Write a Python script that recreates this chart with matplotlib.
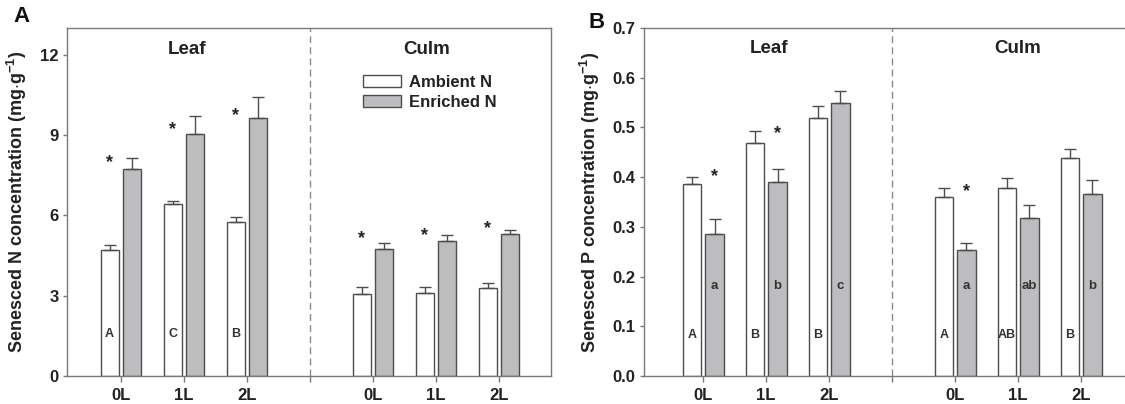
import matplotlib
matplotlib.use("Agg")
import matplotlib.pyplot as plt
import numpy as np

plt.rcParams['font.family'] = ['Liberation Sans', 'DejaVu Sans']
plt.rcParams['font.weight'] = 'bold'
plt.rcParams['mathtext.fontset'] = 'custom'
plt.rcParams['mathtext.rm'] = 'Liberation Sans:bold'
plt.rcParams['mathtext.it'] = 'Liberation Sans:bold'
plt.rcParams['mathtext.bf'] = 'Liberation Sans:bold'

# ---------------- data ----------------
levels = ['0L', '1L', '2L']
organs = ['Leaf', 'Culm']

# Panel A: senesced N (mg/g) -- order: Leaf 0L,1L,2L, Culm 0L,1L,2L
n_ambient = [4.72, 6.43, 5.75, 3.06, 3.11, 3.30]
n_ambient_se = [0.18, 0.12, 0.20, 0.28, 0.23, 0.17]
n_enriched = [7.75, 9.03, 9.64, 4.73, 5.03, 5.29]
n_enriched_se = [0.40, 0.68, 0.78, 0.25, 0.24, 0.15]
n_letters_amb = ['A', 'C', 'B', '', '', '']
n_letters_enr = ['', '', '', '', '', '']
n_star = [True, True, True, True, True, True]
n_star_y = [7.96, 9.19, 9.72, 5.13, 5.26, 5.50]

# Panel B: senesced P (mg/g)
p_ambient = [0.387, 0.468, 0.519, 0.361, 0.379, 0.439]
p_ambient_se = [0.013, 0.024, 0.025, 0.017, 0.019, 0.017]
p_enriched = [0.286, 0.390, 0.549, 0.253, 0.317, 0.366]
p_enriched_se = [0.029, 0.026, 0.024, 0.014, 0.026, 0.028]
p_letters_amb = ['A', 'B', 'B', 'A', 'AB', 'B']
p_letters_enr = ['a', 'b', 'c', 'a', 'ab', 'b']
p_star = [True, True, False, True, False, False]
p_star_y = [0.402, 0.487, None, 0.370, None, None]

series_labels = ['Ambient N', 'Enriched N']

# ---------------- style ----------------
W, H = 1125, 404
fig = plt.figure(figsize=(W / 100, H / 100), dpi=100)
fig.patch.set_facecolor('white')

grey_fill = '#bdbdc0'
edge = '#4d4d4d'
spine_col = '#7a7a7a'
bw = 0.29
off = 0.18
xpos = np.array([0, 1, 2, 4, 5, 6], dtype=float)


def panel(ax, amb, amb_se, enr, enr_se, let_amb, let_enr, star, star_y, star_side,
          ylim, yticks, yticklabels, ylabel, let_y_amb, let_y_enr, title_x, title_y, xlim):
    ax.bar(xpos - off, amb, width=bw, color='white', edgecolor=edge, linewidth=1.0,
           zorder=2, label=series_labels[0])
    ax.bar(xpos + off, enr, width=bw, color=grey_fill, edgecolor=edge, linewidth=1.0,
           zorder=2, label=series_labels[1])
    ax.errorbar(xpos - off, amb, yerr=[np.zeros(len(amb)), amb_se], fmt='none',
                ecolor=edge, elinewidth=1.0, capsize=4, capthick=1.0, zorder=3)
    ax.errorbar(xpos + off, enr, yerr=[np.zeros(len(enr)), enr_se], fmt='none',
                ecolor=edge, elinewidth=1.0, capsize=4, capthick=1.0, zorder=3)
    for i, x in enumerate(xpos):
        if let_amb[i]:
            ax.text(x - off, let_y_amb, let_amb[i], ha='center', va='center',
                    fontsize=9, fontweight='bold', color='#333333', zorder=4)
        if let_enr[i]:
            ax.text(x + off, let_y_enr, let_enr[i], ha='center', va='center',
                    fontsize=9.5, fontweight='bold', color='#333333', zorder=4)
        if star[i]:
            sx = x + star_side * off
            ax.text(sx, star_y[i], '*', ha='center', va='center', fontsize=13,
                    fontweight='bold', color='#222222', zorder=4)
    ax.axvline(3, color='#8a8a8a', linestyle=(0, (5, 3)), linewidth=1.0, zorder=1)
    ax.set_xlim(*xlim)
    ax.set_ylim(*ylim)
    ax.set_yticks(yticks)
    ax.set_yticklabels(yticklabels)
    ax.set_xticks([0, 1, 2, 3, 4, 5, 6])
    ax.set_xticklabels(['0L', '1L', '2L', '', '0L', '1L', '2L'])
    ax.tick_params(axis='x', direction='out', length=4, width=1.0, color=spine_col,
                   labelsize=12, pad=5)
    ax.tick_params(axis='y', direction='out', length=3, width=1.0, color=spine_col,
                   labelsize=12, pad=3)
    for lab in ax.get_xticklabels() + ax.get_yticklabels():
        lab.set_fontweight('bold')
        lab.set_color('#222222')
    for s in ax.spines.values():
        s.set_color(spine_col)
        s.set_linewidth(1.0)
    ax.set_ylabel(ylabel, fontsize=13, fontweight='bold', color='#222222')
    ax.text(title_x[0], title_y, organs[0], ha='center', va='center', fontsize=13.5,
            fontweight='bold', color='#222222')
    ax.text(title_x[1], title_y, organs[1], ha='center', va='center', fontsize=13.5,
            fontweight='bold', color='#222222')


axA = fig.add_axes([67 / W, 28 / H, 484 / W, 348 / H])
panel(axA, n_ambient, n_ambient_se, n_enriched, n_enriched_se,
      n_letters_amb, n_letters_enr, n_star, n_star_y, -1,
      (0, 13), [0, 3, 6, 9, 12], ['0', '3', '6', '9', '12'],
      'Senesced N concentration (mg$\\cdot$g$^{-1}$)', 1.58, 1.58,
      (1.05, 4.85), 12.2, (-0.857, 6.825))
axA.yaxis.set_label_coords(-0.078, 0.5)
leg = axA.legend(loc='upper left', bbox_to_anchor=(0.597, 0.885), frameon=False,
                 fontsize=12, handlelength=2.3, handleheight=0.75, handletextpad=0.5,
                 labelspacing=0.3, borderaxespad=0)
for t in leg.get_texts():
    t.set_fontweight('bold')
    t.set_color('#222222')

axB = fig.add_axes([644 / W, 28 / H, 489 / W, 348 / H])
panel(axB, p_ambient, p_ambient_se, p_enriched, p_enriched_se,
      p_letters_amb, p_letters_enr, p_star, p_star_y, 1,
      (0, 0.7), [0, 0.1, 0.2, 0.3, 0.4, 0.5, 0.6, 0.7],
      ['0.0', '0.1', '0.2', '0.3', '0.4', '0.5', '0.6', '0.7'],
      'Senesced P concentration (mg$\\cdot$g$^{-1}$)', 0.082, 0.182,
      (1.05, 5.0), 0.658, (-0.94, 6.825))
axB.yaxis.set_label_coords(-0.086, 0.5)

fig.text(22 / W, 1 - 17 / H, 'A', fontsize=16, fontweight='bold', ha='center',
         va='center', color='#111111')
fig.text(597 / W, 1 - 22 / H, 'B', fontsize=16, fontweight='bold', ha='center',
         va='center', color='#111111')

fig.savefig('out.png', dpi=100, facecolor='white')
